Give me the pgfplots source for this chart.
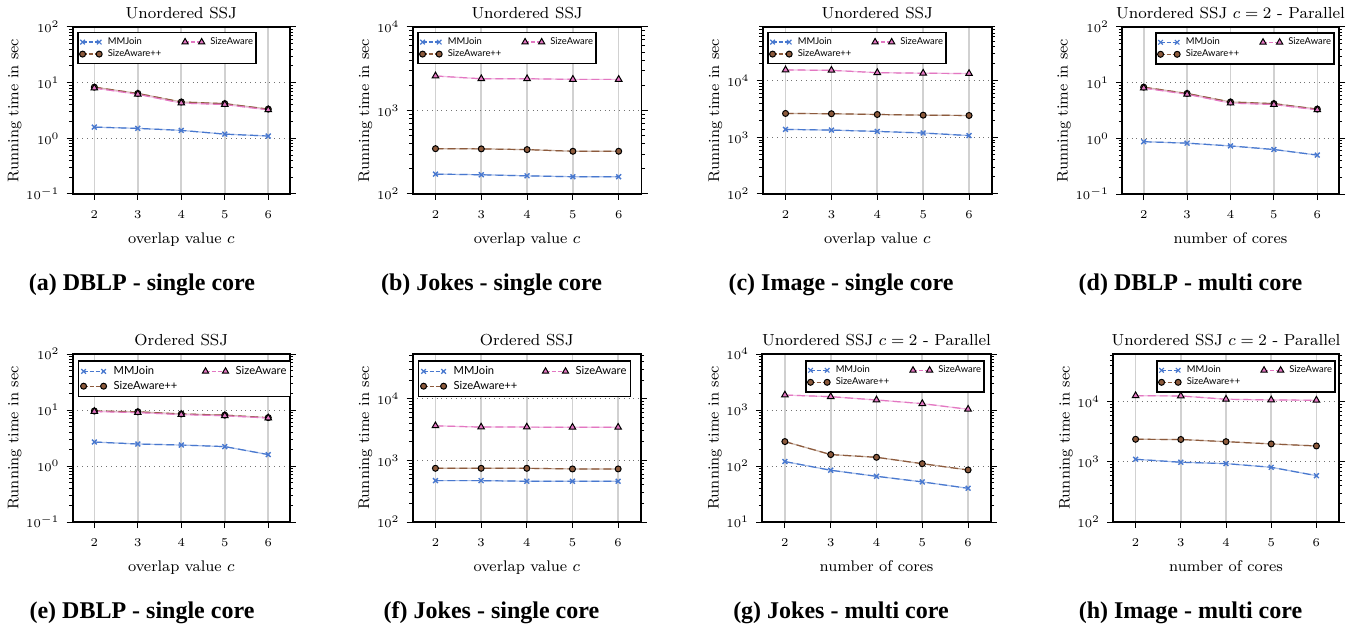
\documentclass[border=0pt]{standalone}
\usepackage{fontspec}
\usepackage{pgfplots}
\usepackage{pgfplotstable}
\pgfplotsset{compat=1.18}
\newfontfamily\legfont{Lato}
\newfontfamily\capfont{Liberation Serif}
\definecolor{mmblue}{HTML}{4878CF}
\definecolor{sapink}{HTML}{E377C2}
\definecolor{sabrown}{HTML}{8C5A3C}

\pgfplotstableread{
x mm sa sap
2 1.59 8.0 8.3
3 1.51 6.2 6.4
4 1.39 4.3 4.5
5 1.19 4.05 4.2
6 1.10 3.25 3.35
}\tabA
\pgfplotstableread{
x mm sa sap
2 173 2590 349
3 170 2400 347
4 165 2400 340
5 161 2360 325
6 161 2360 325
}\tabB
\pgfplotstableread{
x mm sa sap
2 1390 15660 2660
3 1350 15400 2630
4 1280 14000 2550
5 1200 13700 2480
6 1080 13500 2450
}\tabC
\pgfplotstableread{
x mm sa sap
2 0.87 8.0 8.3
3 0.82 6.2 6.4
4 0.73 4.3 4.5
5 0.63 4.05 4.2
6 0.50 3.25 3.35
}\tabD
\pgfplotstableread{
x mm sa sap
2 2.68 9.4 9.6
3 2.47 9.0 9.3
4 2.37 8.3 8.5
5 2.22 7.9 8.1
6 1.60 7.2 7.3
}\tabE
\pgfplotstableread{
x mm sa sap
2 469 3630 743
3 469 3460 743
4 458 3460 743
5 458 3430 725
6 458 3430 725
}\tabF
\pgfplotstableread{
x mm sa sap
2 120 1850 273
3 84 1730 160
4 65.5 1510 143
5 52 1300 110
6 40 1030 85
}\tabG
\pgfplotstableread{
x mm sa sap
2 1110 12700 2390
3 990 12600 2370
4 940 11100 2180
5 816 10800 2000
6 592 10700 1850
}\tabH

\tikzset{
  mmU/.style={draw=mmblue!45, line width=0.6pt},
  sapU/.style={draw=sabrown!45, line width=0.6pt},
  saU/.style={draw=sapink!45, line width=0.6pt},
  mmS/.style={draw=mmblue, line width=0.6pt, dash pattern=on 4pt off 2pt, mark=x, mark size=1.7pt, mark options={solid, draw=mmblue, line width=0.7pt}},
  sapS/.style={draw=sabrown, line width=0.6pt, dash pattern=on 4pt off 2pt, mark=*, mark size=1.5pt, mark options={solid, fill=sabrown, draw=black, line width=0.5pt}},
  saS/.style={draw=sapink, line width=0.6pt, dash pattern=on 4pt off 2pt, mark=triangle*, mark size=1.9pt, mark options={solid, fill=sapink, draw=black, line width=0.5pt}},
  mmL/.style={draw=mmblue, line width=0.6pt, dash pattern=on 2pt off 1pt, mark=x, mark size=1.6pt, mark options={solid, draw=mmblue, line width=0.6pt}},
  sapL/.style={draw=sabrown, line width=0.6pt, dash pattern=on 2pt off 1pt, mark=*, mark size=1.5pt, mark options={solid, fill=sabrown, draw=black, line width=0.5pt}},
  saL/.style={draw=sapink, line width=0.6pt, dash pattern=on 2pt off 1pt, mark=triangle*, mark size=1.8pt, mark options={solid, fill=sapink, draw=black, line width=0.5pt}},
}

\pgfplotsset{every axis/.append style={
    scale only axis, xmin=1.5, xmax=6.5, xtick={2,3,4,5,6},
    axis line style={line width=0.9pt},
    tick align=outside, major tick length=3pt, minor tick length=1.6pt,
    xtick pos=left, ytick pos=both,
    xmajorgrids, ymajorgrids,
    major x grid style={draw=black!18, line width=0.8pt},
    major y grid style={draw=black!55, dotted, line width=0.5pt},
    tick label style={font=\fontsize{6.5}{7}\selectfont},
    xticklabel style={yshift=-2pt}, yticklabel style={xshift=0pt},
    label style={font=\fontsize{7.7}{9}\selectfont},
    ylabel shift=-4.5pt,
    title style={font=\fontsize{8}{9}\selectfont, at={(0.5,1)}, anchor=south, inner sep=0pt, yshift=-2.15pt},
    ylabel={Running time in sec},
    legend columns=2, legend cell align=left,
    legend style={draw=black, line width=0.8pt},
  }}
\pgfplotsset{every tick/.append style={black, line width=0.5pt}}
\pgfplotsset{legend image code/.code={\draw[#1] plot coordinates {(0pt,0pt) (8.3pt,0pt)};}}

\newcommand\drawseries[1]{%
  \addlegendimage{mmL}\addlegendentry{MMJoin}
  \addlegendimage{saL}\addlegendentry{SizeAware}
  \addlegendimage{sapL}\addlegendentry{SizeAware++}
  \addplot[mmU, forget plot] table[x=x, y=mm]{#1};
  \addplot[sapU, forget plot] table[x=x, y=sap]{#1};
  \addplot[saU, forget plot] table[x=x, y=sa]{#1};
  \addplot[mmS, forget plot] table[x=x, y=mm]{#1};
  \addplot[sapS, forget plot] table[x=x, y=sap]{#1};
  \addplot[saS, forget plot] table[x=x, y=sa]{#1};
}

\begin{document}
\begin{tikzpicture}
\useasboundingbox (0,0) rectangle (678pt,-313pt);

% top row
\begin{axis}[ymode=log, at={(36.3pt,-97pt)}, anchor=south west, width=108.7pt, height=83.5pt,
  legend style={at={(0,1)}, anchor=north west, xshift=2.3pt, yshift=-2.4pt,
    font=\legfont\fontsize{4.7}{5.6}\selectfont, inner xsep=0.8pt, inner ysep=1.75pt,
    nodes={inner sep=0.8pt, text height=3.4pt, text depth=1pt},
    column sep=2pt, /tikz/every even column/.append style={column sep=9.5pt}},
  ymin=0.1, ymax=100, title={Unordered SSJ}, xlabel={overlap value $c$}]
\drawseries{\tabA}
\end{axis}
\begin{axis}[ymode=log, at={(206.3pt,-97pt)}, anchor=south west, width=114.5pt, height=83.5pt,
  legend style={at={(0,1)}, anchor=north west, xshift=2.3pt, yshift=-2.4pt,
    font=\legfont\fontsize{4.7}{5.6}\selectfont, inner xsep=0.8pt, inner ysep=1.75pt,
    nodes={inner sep=0.8pt, text height=3.4pt, text depth=1pt},
    column sep=2pt, /tikz/every even column/.append style={column sep=9.5pt}},
  ymin=100, ymax=10000, title={Unordered SSJ}, xlabel={overlap value $c$}]
\drawseries{\tabB}
\end{axis}
\begin{axis}[ymode=log, at={(381.3pt,-97pt)}, anchor=south west, width=114.7pt, height=83.5pt,
  legend style={at={(0,1)}, anchor=north west, xshift=2.3pt, yshift=-2.4pt,
    font=\legfont\fontsize{4.7}{5.6}\selectfont, inner xsep=0.8pt, inner ysep=1.75pt,
    nodes={inner sep=0.8pt, text height=3.4pt, text depth=1pt},
    column sep=2pt, /tikz/every even column/.append style={column sep=9.5pt}},
  ymin=100, ymax=90000, title={Unordered SSJ}, xlabel={overlap value $c$}]
\drawseries{\tabC}
\end{axis}
\begin{axis}[ymode=log, at={(561pt,-97pt)}, anchor=south west, width=108.5pt, height=83.5pt,
  legend style={at={(1,1)}, anchor=north east, xshift=-2pt, yshift=-2.5pt,
    font=\legfont\fontsize{4.7}{5.6}\selectfont, inner xsep=0.8pt, inner ysep=1.75pt,
    nodes={inner sep=0.8pt, text height=3.4pt, text depth=1pt},
    column sep=2pt, /tikz/every even column/.append style={column sep=9.5pt}},
  ymin=0.1, ymax=100, title={Unordered SSJ $c=2$ - Parallel}, xlabel={number of cores}]
\drawseries{\tabD}
\end{axis}

% bottom row
\begin{axis}[ymode=log, at={(36.3pt,-261pt)}, anchor=south west, width=108.7pt, height=84pt,
  legend image code/.code={\draw[#1] plot coordinates {(0pt,0pt) (10pt,0pt)};},
  legend style={at={(0,1)}, anchor=north west, xshift=2.6pt, yshift=-3.2pt,
    font=\legfont\fontsize{5.6}{6.7}\selectfont, inner xsep=1pt, inner ysep=1.4pt,
    nodes={inner sep=1.1pt, text height=4pt, text depth=1.2pt},
    column sep=2.4pt, /tikz/every even column/.append style={column sep=11.4pt}},
  ymin=0.1, ymax=100, title={Ordered SSJ}, xlabel={overlap value $c$}]
\drawseries{\tabE}
\end{axis}
\begin{axis}[ymode=log, at={(206.3pt,-261pt)}, anchor=south west, width=114.2pt, height=84pt,
  legend image code/.code={\draw[#1] plot coordinates {(0pt,0pt) (10pt,0pt)};},
  legend style={at={(0,1)}, anchor=north west, xshift=2.6pt, yshift=-3.2pt,
    font=\legfont\fontsize{5.6}{6.7}\selectfont, inner xsep=1pt, inner ysep=1.4pt,
    nodes={inner sep=1.1pt, text height=4pt, text depth=1.2pt},
    column sep=2.4pt, /tikz/every even column/.append style={column sep=11.4pt}},
  ymin=100, ymax=53000, title={Ordered SSJ}, xlabel={overlap value $c$}]
\drawseries{\tabF}
\end{axis}
\begin{axis}[ymode=log, at={(381pt,-261pt)}, anchor=south west, width=114.5pt, height=84pt,
  legend style={at={(1,1)}, anchor=north east, xshift=-3pt, yshift=-3pt,
    font=\legfont\fontsize{4.7}{5.6}\selectfont, inner xsep=0.8pt, inner ysep=1.75pt,
    nodes={inner sep=0.8pt, text height=3.4pt, text depth=1pt},
    column sep=2pt, /tikz/every even column/.append style={column sep=9.5pt}},
  ymin=10, ymax=10000, title={Unordered SSJ $c=2$ - Parallel}, xlabel={number of cores}]
\drawseries{\tabG}
\end{axis}
\begin{axis}[ymode=log, at={(556.5pt,-261pt)}, anchor=south west, width=113pt, height=84pt,
  legend style={at={(1,1)}, anchor=north east, xshift=-1.5pt, yshift=-3pt,
    font=\legfont\fontsize{4.7}{5.6}\selectfont, inner xsep=0.8pt, inner ysep=1.75pt,
    nodes={inner sep=0.8pt, text height=3.4pt, text depth=1pt},
    column sep=2pt, /tikz/every even column/.append style={column sep=9.5pt}},
  ymin=100, ymax=63000, title={Unordered SSJ $c=2$ - Parallel}, xlabel={number of cores}]
\drawseries{\tabH}
\end{axis}

% captions
\begin{scope}[every node/.style={anchor=base, inner sep=0pt, font=\capfont\bfseries\fontsize{12}{14}\selectfont}]
\node at (71pt,-145.25pt) {(a) DBLP - single core};
\node at (245.75pt,-145.25pt) {(b) Jokes - single core};
\node at (420.5pt,-145.25pt) {(c) Image - single core};
\node at (595.25pt,-145.25pt) {(d) DBLP - multi core};
\node at (71pt,-309.25pt) {(e) DBLP - single core};
\node at (245.75pt,-309.25pt) {(f) Jokes - single core};
\node at (420.5pt,-309.25pt) {(g) Jokes - multi core};
\node at (595.25pt,-309.25pt) {(h) Image - multi core};
\end{scope}
\end{tikzpicture}
\end{document}
